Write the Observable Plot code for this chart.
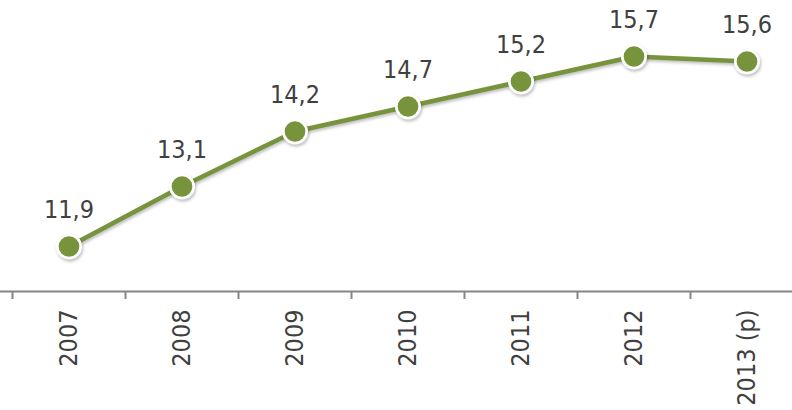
<!DOCTYPE html>
<html>
<head>
<meta charset="utf-8">
<script src="https://cdn.jsdelivr.net/npm/d3@7"></script>
<script src="https://cdn.jsdelivr.net/npm/@observablehq/plot@0.6"></script>
<style>
  html, body { margin: 0; padding: 0; background: #fff; }
  .shadow { filter: drop-shadow(1px 2px 1.5px rgba(0,0,0,0.25)); }
</style>
</head>
<body>
<div id="chart"></div>
<script>
const years = ["2007", "2008", "2009", "2010", "2011", "2012", "2013 (p)"];
const values = [11.9, 13.1, 14.2, 14.7, 15.2, 15.7, 15.6];

const data = years.map((year, i) => ({i, year, value: values[i]}));
const green = "#77933C";
const textColor = "#404040";
const axisColor = "#868686";

const chart = Plot.plot({
  width: 792,
  height: 410,
  marginTop: 41,
  marginBottom: 119,
  marginLeft: 0,
  marginRight: 0,
  x: {type: "linear", domain: [-0.5, years.length - 0.5], range: [12, 803], axis: null},
  y: {domain: [11, 16], axis: null},
  style: {fontFamily: "'DejaVu Sans Condensed', 'DejaVu Sans', sans-serif", color: textColor, background: "white"},
  marks: [
    Plot.ruleY([11], {stroke: axisColor, strokeWidth: 2}),
    Plot.axisX({
      ticks: d3.range(-0.5, years.length - 0.5, 1),
      tickSize: 8,
      tickFormat: () => "",
      stroke: axisColor,
      strokeWidth: 2,
      label: null
    }),
    Plot.axisX({
      ticks: d3.range(0, years.length),
      tickSize: 0,
      tickPadding: 18,
      tickRotate: -90,
      tickFormat: i => years[i],
      fontSize: 25,
      fill: textColor,
      label: null
    }),
    Plot.line(data, {x: "i", y: "value", stroke: green, strokeWidth: 4.5, className: "shadow"}),
    Plot.dot(data, {x: "i", y: "value", r: 11.7, fill: green, stroke: "white", strokeWidth: 2.7, className: "shadow"}),
    Plot.text(data, {
      x: "i", y: "value",
      text: d => d.value.toFixed(1).replace(".", ","),
      dy: -29,
      lineAnchor: "bottom",
      fontSize: 25,
      fill: textColor
    })
  ]
});
document.getElementById("chart").appendChild(chart);
</script>
</body>
</html>
